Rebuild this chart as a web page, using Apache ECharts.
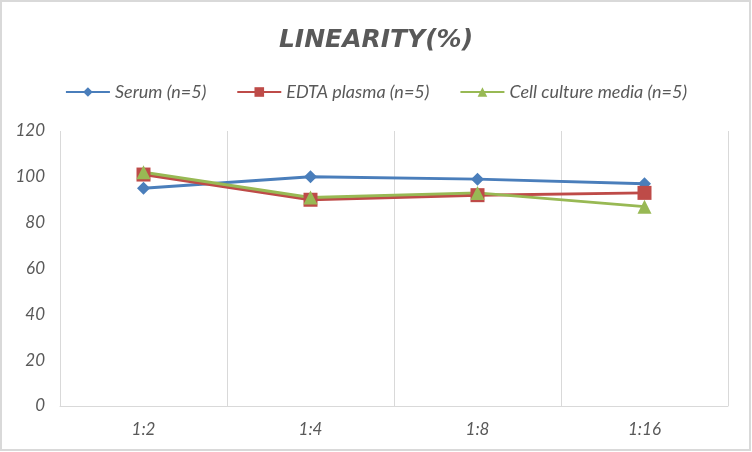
<!DOCTYPE html>
<html>
<head>
<meta charset="utf-8">
<script src="https://cdn.jsdelivr.net/npm/echarts@6/dist/echarts.min.js"></script>
<style>
  html, body { margin: 0; padding: 0; background: #fff; }
  #chart { width: 752px; height: 452px; }
</style>
</head>
<body>
<div id="chart"></div>
<script>
// data
const categories = ['1:2', '1:4', '1:8', '1:16']
const serum = [95, 100, 99, 97]
const edtaPlasma = [101, 90, 92, 93]
const cellCulture = [102, 91, 93, 87]
const yTicks = { min: 0, max: 120, interval: 20 }

const grey = '#595959'
const font = 'Lato, "Open Sans", sans-serif'

let myChart = echarts.init(document.getElementById('chart'))

function lineSeries(name, data, color, symbol, size) {
  return {
    name: name,
    type: 'line',
    data: data,
    symbol: symbol,
    symbolSize: size,
    lineStyle: { color: color, width: 3 },
    itemStyle: { color: color },
    emphasis: { disabled: true }
  }
}

let options = {
  animation: false,
  graphic: [{
    type: 'rect',
    shape: { x: 1, y: 1, width: 749, height: 449 },
    style: { fill: 'none', stroke: '#d9d9d9', lineWidth: 2 },
    z: -1
  }],
  title: {
    text: 'LINEARITY(%)',
    left: 'center',
    top: 23,
    textStyle: {
      color: grey,
      fontFamily: '"DejaVu Sans", sans-serif',
      fontSize: 25,
      fontWeight: 'bold',
      fontStyle: 'italic'
    }
  },
  legend: {
    top: 78,
    left: 'center',
    itemWidth: 44,
    itemHeight: 12,
    itemGap: 30,
    textStyle: { color: grey, fontFamily: font, fontSize: 18, fontStyle: 'italic' },
    data: ['Serum (n=5)', 'EDTA plasma (n=5)', 'Cell culture media (n=5)']
  },
  grid: { left: 60, right: 24, top: 131, bottom: 46 },
  xAxis: {
    type: 'category',
    data: categories,
    boundaryGap: true,
    axisLine: { lineStyle: { color: '#d9d9d9', width: 1 } },
    axisTick: { show: false },
    splitLine: { show: true, interval: 0, lineStyle: { color: '#d9d9d9' } },
    axisLabel: { color: grey, fontFamily: font, fontSize: 17, fontStyle: 'italic', margin: 15 }
  },
  yAxis: {
    type: 'value',
    min: yTicks.min,
    max: yTicks.max,
    interval: yTicks.interval,
    axisLine: { show: false },
    axisTick: { show: false },
    splitLine: { show: false },
    axisLabel: { color: grey, fontFamily: font, fontSize: 17, fontStyle: 'italic', margin: 15 }
  },
  series: [
    lineSeries('Serum (n=5)', serum, '#4a7ebb', 'diamond', 13),
    lineSeries('EDTA plasma (n=5)', edtaPlasma, '#be4b48', 'rect', 14),
    lineSeries('Cell culture media (n=5)', cellCulture, '#98b954', 'triangle', 14)
  ]
}
myChart.setOption(options)
</script>
</body>
</html>
